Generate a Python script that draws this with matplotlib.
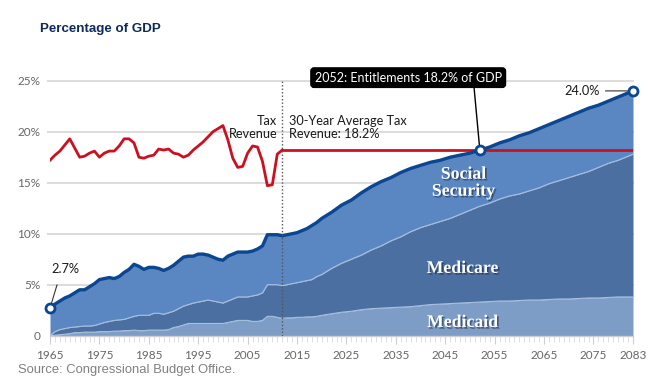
import matplotlib
matplotlib.use("Agg")
import matplotlib.pyplot as plt
import matplotlib.patheffects as pe
import numpy as np

# ---------------- data ----------------
years = list(range(1965, 2021)) + list(range(2022, 2083, 2)) + [2083]

total_entitlements = [
    2.7, 3.1, 3.4, 3.7, 3.9, 4.2, 4.5, 4.5, 4.8, 5.1,
    5.5, 5.6, 5.7, 5.6, 5.8, 6.2, 6.5, 7.0, 6.8, 6.5,
    6.7, 6.7, 6.6, 6.4, 6.6, 6.9, 7.3, 7.7, 7.8, 7.8,
    8.0, 8.0, 7.9, 7.7, 7.5, 7.4, 7.8, 8.0, 8.2, 8.2,
    8.2, 8.3, 8.5, 8.8, 9.9, 9.9, 9.9, 9.8, 9.9, 10.0,
    10.1, 10.3, 10.5, 10.8, 11.1, 11.5,
    12.1, 12.8, 13.3, 14.0, 14.6, 15.1, 15.5, 16.0, 16.4, 16.7,
    17.0, 17.2, 17.5, 17.7, 17.9, 18.2, 18.5, 18.9, 19.2, 19.6,
    19.9, 20.3, 20.7, 21.1, 21.5, 21.9, 22.3, 22.6, 23.0, 23.4,
    23.8, 24.0,
]

medicare_plus_medicaid = [
    0.0, 0.4, 0.6, 0.7, 0.8, 0.85, 0.9, 0.95, 0.95, 1.0,
    1.15, 1.3, 1.4, 1.5, 1.55, 1.6, 1.75, 1.9, 2.0, 2.0,
    2.0, 2.2, 2.2, 2.1, 2.25, 2.4, 2.65, 2.9, 3.05, 3.2,
    3.3, 3.4, 3.5, 3.4, 3.3, 3.2, 3.4, 3.6, 3.8, 3.8,
    3.8, 3.9, 4.0, 4.2, 5.0, 5.0, 5.0, 4.9, 5.0, 5.1,
    5.2, 5.3, 5.4, 5.5, 5.8, 6.0,
    6.6, 7.1, 7.5, 7.9, 8.4, 8.8, 9.3, 9.7, 10.2, 10.6,
    10.9, 11.2, 11.5, 11.9, 12.3, 12.7, 13.0, 13.4, 13.7, 13.9,
    14.2, 14.5, 14.9, 15.2, 15.5, 15.8, 16.1, 16.5, 16.9, 17.2,
    17.6, 17.8,
]

medicaid = [
    0.0, 0.05, 0.1, 0.15, 0.2, 0.3, 0.3, 0.35, 0.35, 0.35,
    0.4, 0.4, 0.4, 0.45, 0.45, 0.5, 0.5, 0.55, 0.5, 0.5,
    0.55, 0.55, 0.55, 0.55, 0.6, 0.8, 0.9, 1.05, 1.2, 1.2,
    1.2, 1.2, 1.2, 1.2, 1.2, 1.2, 1.3, 1.4, 1.5, 1.5,
    1.5, 1.4, 1.4, 1.5, 1.9, 1.9, 1.8, 1.7, 1.75, 1.75,
    1.8, 1.8, 1.85, 1.85, 1.9, 2.0,
    2.15, 2.3, 2.4, 2.55, 2.65, 2.7, 2.75, 2.8, 2.85, 2.95,
    3.05, 3.1, 3.15, 3.2, 3.25, 3.3, 3.35, 3.4, 3.4, 3.45,
    3.5, 3.5, 3.55, 3.6, 3.6, 3.65, 3.7, 3.7, 3.75, 3.8,
    3.8, 3.8,
]

revenue_years = list(range(1965, 2013))
tax_revenue = [
    17.2, 17.7, 18.1, 18.7, 19.3, 18.4, 17.5, 17.6, 17.9, 18.1,
    17.5, 17.9, 18.1, 18.1, 18.6, 19.3, 19.3, 18.9, 17.5, 17.4,
    17.6, 17.7, 18.3, 18.2, 18.3, 17.9, 17.8, 17.5, 17.7, 18.2,
    18.6, 19.0, 19.5, 20.0, 20.3, 20.6, 19.2, 17.4, 16.5, 16.6,
    17.9, 18.6, 18.5, 17.1, 14.7, 14.8, 17.8, 18.2,
]
avg_tax = 18.2
avg_start, end_year = 2012, 2083
cross_year, cross_value = 2052, 18.2

y_ticks = [0, 5, 10, 15, 20, 25]
y_labels = ["0", "5%", "10%", "15%", "20%", "25%"]
x_ticks = [1965, 1975, 1985, 1995, 2005, 2015, 2025, 2035, 2045, 2055, 2065, 2075, 2083]

# ---------------- style ----------------
c_ss = "#5a86c2"
c_mcare = "#4a6fa0"
c_mcaid = "#7d9dc7"
c_line = "#0b4690"
c_red = "#cc1020"
c_grid = "#dcdcdc"
c_tick = "#666666"

fig = plt.figure(figsize=(6.48, 3.84), dpi=100)
ax = fig.add_axes([50 / 648, 1 - 335.7 / 384, (633 - 50) / 648, (335.7 - 80.7) / 384])
ax.set_xlim(1965, 2083)
ax.set_ylim(0, 25)

# gridlines
for yv in y_ticks[1:]:
    ax.plot([1964.6, 2083], [yv, yv], color=c_grid, lw=1.4, zorder=0, clip_on=False)

yrs = np.array(years)
tot = np.array(total_entitlements)
mm = np.array(medicare_plus_medicaid)
md = np.array(medicaid)

ax.fill_between(yrs, mm, tot, color=c_ss, lw=0, zorder=1)
ax.fill_between(yrs, md, mm, color=c_mcare, lw=0, zorder=1)
ax.fill_between(yrs, 0, md, color=c_mcaid, lw=0, zorder=1)
ax.plot(yrs, mm, color="#a9c0e0", lw=0.8, zorder=2)
ax.plot(yrs, md, color="#a9c0e0", lw=0.8, zorder=2)
ax.plot(yrs, tot, color=c_line, lw=2.4, zorder=4, solid_joinstyle="round")

# tax revenue
ax.plot(revenue_years, tax_revenue, color=c_red, lw=2.0, zorder=3, solid_joinstyle="round")
ax.plot([avg_start, end_year], [avg_tax, avg_tax], color=c_red, lw=2.0, zorder=3)

# 2012 divider
ax.plot([2012, 2012], [0, 25], color="#555555", lw=1.0, ls=(0, (1, 1.5)), zorder=5)

# markers
for (xv, yv) in [(years[0], total_entitlements[0]), (years[-1], total_entitlements[-1]), (cross_year, cross_value)]:
    ax.plot([xv], [yv], marker="o", ms=6.5, mfc="white", mec=c_line, mew=2.0, zorder=6, clip_on=False)

# spines & ticks
for s in ["top", "right", "left"]:
    ax.spines[s].set_visible(False)
ax.spines["bottom"].set_color("#cfcfcf")
ax.spines["bottom"].set_linewidth(1.0)
ax.set_yticks(y_ticks)
ax.set_yticklabels(y_labels)
ax.tick_params(axis="y", length=0, pad=7, labelsize=8.5, labelcolor=c_tick)
ax.set_xticks(x_ticks)
ax.set_xticklabels([str(t) for t in x_ticks])
ax.set_xticks(range(1966, 2083), minor=True)
ax.tick_params(axis="x", which="major", length=6, color="#cfcfcf", labelsize=8.5, labelcolor=c_tick, pad=4)
ax.tick_params(axis="x", which="minor", length=4, color="#dadada")
for lab in ax.get_xticklabels() + ax.get_yticklabels():
    lab.set_family("Lato")

# area labels
shadow = [pe.SimplePatchShadow(offset=(1.2, -1.2), shadow_rgbFace="#1a2a45", alpha=0.6), pe.Normal()]
lab_kw = dict(color="white", family="Liberation Serif", fontweight="bold", fontsize=12.8,
              ha="center", va="center", zorder=7, path_effects=shadow, linespacing=1.0)
ax.text(2048.7, 15.0, "Social\nSecurity", **lab_kw)
ax.text(2048.5, 6.6, "Medicare", **lab_kw)
ax.text(2048.5, 1.3, "Medicaid", **lab_kw)

# text annotations
txt_kw = dict(family="Lato", fontsize=9.2, color="#1a1a1a", zorder=7, linespacing=1.05)
ax.text(2011.0, 20.4, "Tax\nRevenue", ha="right", va="center", **txt_kw)
ax.text(2013.3, 20.4, "30-Year Average Tax\nRevenue: 18.2%", ha="left", va="center", **txt_kw)

# 2052 callout
ax.annotate("2052: Entitlements 18.2% of GDP", xy=(cross_year, cross_value), xytext=(2037.5, 25.3),
            ha="center", va="center", fontsize=9, family="Lato", color="white", zorder=8,
            bbox=dict(boxstyle="round,pad=0.3,rounding_size=0.25", fc="black", ec="black"),
            arrowprops=dict(arrowstyle="-", color="black", lw=1.0, shrinkA=0, shrinkB=4,
                            relpos=(0.85, 0.0)), annotation_clip=False)

# 24.0% label
ax.annotate("24.0%", xy=(end_year, total_entitlements[-1]), xytext=(2076.3, 24.0),
            ha="right", va="center", fontsize=9.2, family="Lato", color="#1a1a1a", zorder=8,
            arrowprops=dict(arrowstyle="-", color="#333333", lw=0.8, shrinkA=2, shrinkB=4),
            annotation_clip=False)

# 2.7% label
ax.annotate("2.7%", xy=(years[0], total_entitlements[0]), xytext=(1965.3, 6.5),
            ha="left", va="center", fontsize=9.2, family="Lato", color="#1a1a1a", zorder=8,
            arrowprops=dict(arrowstyle="-", color="#333333", lw=0.8, shrinkA=5, shrinkB=4,
                            relpos=(0.3, 0.0)),
            annotation_clip=False)

# title and source
fig.text(40 / 648, 1 - 29 / 384, "Percentage of GDP", family="Liberation Sans", fontweight="bold",
         fontsize=9.6, color="#0d2b58", ha="left", va="center")
fig.text(18 / 648, 1 - 370 / 384, "Source: Congressional Budget Office.", family="Liberation Sans",
         fontsize=9.4, color="#808080", ha="left", va="center")

fig.savefig("out.png", dpi=100)
